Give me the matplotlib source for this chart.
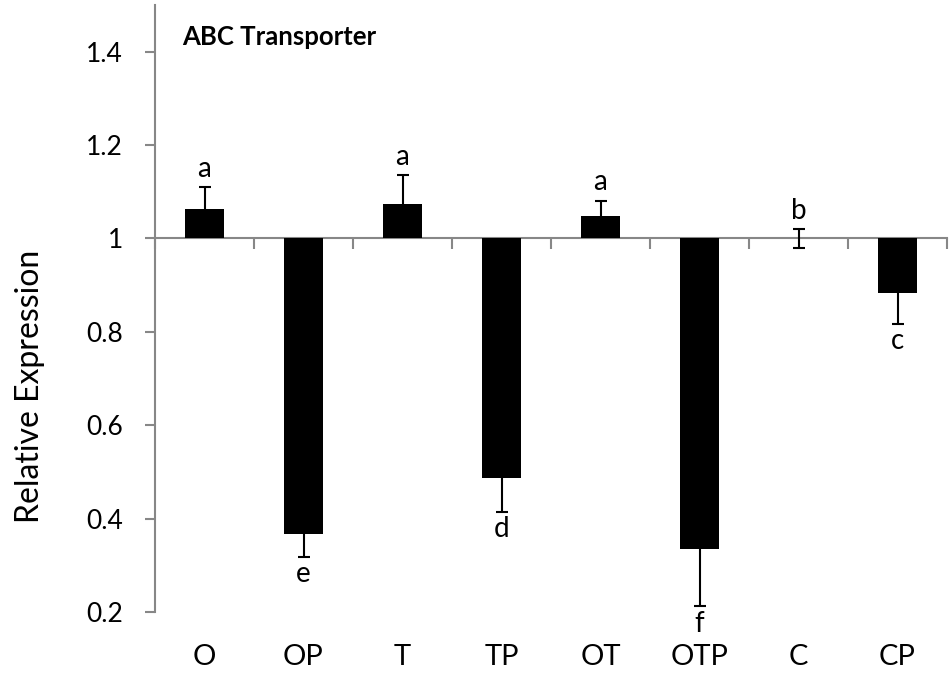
import matplotlib
matplotlib.use("Agg")
import matplotlib.pyplot as plt
import matplotlib.transforms as mtransforms
import numpy as np

categories = ["O", "OP", "T", "TP", "OT", "OTP", "C", "CP"]
values = [1.064, 0.368, 1.074, 0.488, 1.049, 0.335, 1.000, 0.883]
errors = [0.046, 0.050, 0.061, 0.073, 0.032, 0.123, 0.020, 0.066]
letters = ["a", "e", "a", "d", "a", "f", "b", "c"]
y_ticks = [0.2, 0.4, 0.6, 0.8, 1.0, 1.2, 1.4]
title = "ABC Transporter"
ylabel = "Relative Expression"

plt.rcParams['font.family'] = ['Lato', 'DejaVu Sans']

fig = plt.figure(figsize=(9.5, 6.81), dpi=100)
ax = fig.add_axes([155/950, 1-612/681, 792/950, 607/681])

x = np.arange(len(categories))
vals = np.array(values)
errs = np.array(errors)
ax.bar(x, vals - 1.0, bottom=1.0, width=0.39, color='black', zorder=3)
ax.errorbar(x, vals, yerr=errs, fmt='none', ecolor='black', elinewidth=1.5,
            capsize=4.5, capthick=1.5, zorder=4)

for xi, v, e, lab in zip(x, vals, errs, letters):
    if v >= 1.0:
        ax.annotate(lab, (xi, v + e), xytext=(0, 4), textcoords='offset points',
                    ha='center', va='bottom', fontsize=20)
    else:
        ax.annotate(lab, (xi, v - e), xytext=(0, -3), textcoords='offset points',
                    ha='center', va='top', fontsize=20)

ax.set_xlim(-0.5, len(categories) - 0.5)
ax.set_ylim(0.2, 1.5)

gray = '#878787'
for s in ['top', 'right']:
    ax.spines[s].set_visible(False)
ax.spines['bottom'].set_position(('data', 1.0))
ax.spines['bottom'].set_color(gray)
ax.spines['left'].set_color(gray)
ax.spines['bottom'].set_linewidth(1.5)
ax.spines['left'].set_linewidth(1.5)

ax.set_xticks(np.arange(-0.5, len(categories), 1.0))
ax.set_xticklabels([])
ax.tick_params(axis='x', direction='out', length=8, width=1.5, color=gray)

ax.set_yticks(y_ticks)
ax.set_yticklabels(['{:g}'.format(t) for t in y_ticks])
ax.tick_params(axis='y', direction='out', length=7, width=1.5, color=gray,
               labelsize=19, pad=16)

trans = mtransforms.blended_transform_factory(ax.transData, ax.transAxes)
for xi, c in zip(x, categories):
    ax.text(xi, -0.074, c, transform=trans, ha='center', va='center', fontsize=21)

ax.text(0.034, 0.947, title, transform=ax.transAxes, ha='left', va='center',
        fontsize=18.5, fontweight='bold')

fig.text(30/950, 1-386/681, ylabel, rotation=90, ha='center', va='center', fontsize=23)

fig.savefig('out.png', dpi=100)
